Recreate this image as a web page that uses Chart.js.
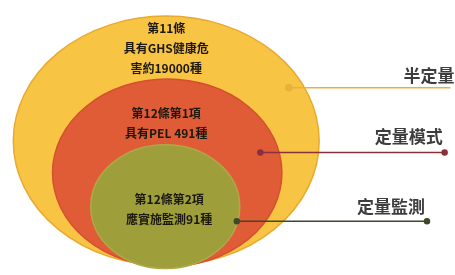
<!DOCTYPE html>
<html>
<head>
<meta charset="utf-8">
<script src="https://cdn.jsdelivr.net/npm/chart.js@4.4.0/dist/chart.umd.min.js"></script>
<style>
  html, body { margin: 0; padding: 0; background: #fff; }
  #wrap { width: 455px; height: 275px; }
</style>
</head>
<body>
<div id="wrap"><canvas id="c"></canvas></div>
<script>
// tiers, outer to inner
const tiers = ['第11條', '第12條第1項', '第12條第2項'];
const tierText = [
    ['第11條', '具有GHS健康危', '害約19000種'],
    ['第12條第1項', '具有PEL 491種'],
    ['第12條第2項', '應實施監測91種']
];
const counts = [19000, 491, 91];
const methods = ['半定量', '定量模式', '定量監測'];

// layout (chart units = pixels)
const ellipses = [
    { cx: 165, cy: 141, rx: 156, ry: 129, fill: '#F8C444', edge: '#E9A92E' },
    { cx: 166, cy: 174, rx: 117, ry: 97, fill: '#E05C37', edge: '#D5502E' },
    { cx: 164, cy: 209, rx: 76, ry: 64, fill: '#9E9F3B', edge: '#B0A848' }
];
const textPos = [
    { x: 165, y: 25 },
    { x: 165, y: 113 },
    { x: 168, y: 202 }
];
const leaders = [
    { pts: [{ x: 290, y: 86 }, { x: 458, y: 86 }], color: '#E8B13C', dots: [3, 0], label: { x: 459, y: 73 } },
    { pts: [{ x: 261, y: 153 }, { x: 449, y: 153 }], color: '#8A2F3C', dots: [2.5, 2.5], label: { x: 447, y: 137 } },
    { pts: [{ x: 237, y: 224 }, { x: 431, y: 224 }], color: '#3C4A2C', dots: [2.5, 2.5], label: { x: 429, y: 209 } }
];

const ellipsePlugin = {
    id: 'ellipses',
    beforeDatasetsDraw(chart) {
        const { ctx, scales: { x, y } } = chart;
        ellipses.forEach((e, i) => {
            const cx = x.getPixelForValue(e.cx), cy = y.getPixelForValue(e.cy);
            const rx = Math.abs(x.getPixelForValue(e.cx + e.rx) - cx);
            const ry = Math.abs(y.getPixelForValue(e.cy + e.ry) - cy);
            ctx.save();
            ctx.beginPath();
            ctx.ellipse(cx, cy, rx, ry, 0, 0, Math.PI * 2);
            ctx.fillStyle = e.fill;
            ctx.fill();
            ctx.lineWidth = 1.5;
            ctx.strokeStyle = e.edge;
            ctx.stroke();
            ctx.restore();
        });
    },
    afterDatasetsDraw(chart) {
        const { ctx, scales: { x, y } } = chart;
        ctx.save();
        ctx.textAlign = 'center';
        ctx.textBaseline = 'middle';
        ctx.font = 'bold 12px "Noto Sans CJK TC"';
        ctx.fillStyle = '#1c1810';
        tierText.forEach((lines, i) => {
            lines.forEach((t, j) => {
                ctx.fillText(t, x.getPixelForValue(textPos[i].x), y.getPixelForValue(textPos[i].y + j * 20.5));
            });
        });
        ctx.textAlign = 'right';
        ctx.font = 'bold 17px "Noto Sans CJK TC"';
        ctx.fillStyle = '#3d3d3d';
        methods.forEach((m, i) => {
            const l = leaders[i].label;
            ctx.fillText(m, x.getPixelForValue(l.x), y.getPixelForValue(l.y));
        });
        ctx.restore();
    }
};

new Chart(document.getElementById('c'), {
    type: 'scatter',
    data: {
        datasets: leaders.map((l, i) => ({
            label: methods[i],
            data: l.pts,
            showLine: true,
            borderColor: l.color,
            backgroundColor: l.color,
            borderWidth: 1.5,
            pointRadius: l.dots,
            pointHoverRadius: 0
        }))
    },
    options: {
        responsive: true,
        maintainAspectRatio: false,
        animation: false,
        layout: { padding: 0 },
        plugins: { legend: { display: false }, tooltip: { enabled: false } },
        scales: {
            x: { type: 'linear', min: 0, max: 455, display: false },
            y: { type: 'linear', min: 0, max: 275, reverse: true, display: false }
        }
    },
    plugins: [ellipsePlugin]
});
</script>
</body>
</html>
